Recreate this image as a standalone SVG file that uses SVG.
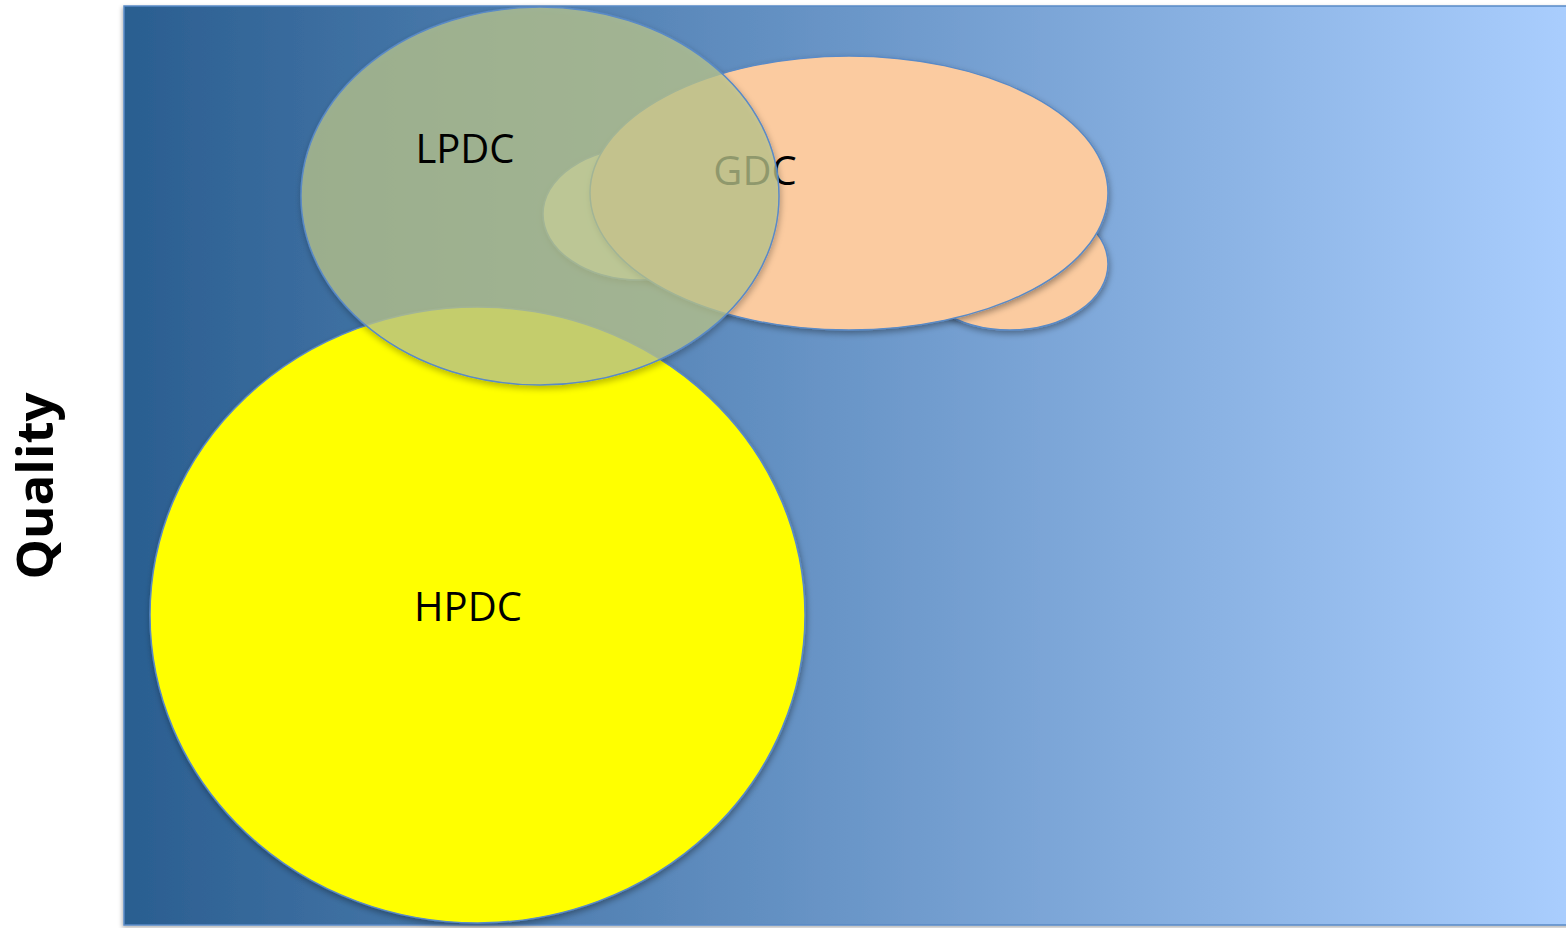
<svg xmlns="http://www.w3.org/2000/svg" width="1566" height="928" viewBox="0 0 1566 928">
  <defs>
    <linearGradient id="bg" x1="0" y1="0" x2="1" y2="0">
      <stop offset="0" stop-color="#2a5e90"/>
      <stop offset="0.5" stop-color="#6a96c8"/>
      <stop offset="1" stop-color="#aacefe"/>
    </linearGradient>
    <filter id="sh" x="-10%" y="-10%" width="120%" height="125%">
      <feDropShadow dx="1" dy="3" stdDeviation="3" flood-color="#000" flood-opacity="0.35"/>
    </filter>
    <filter id="bgsh" x="-2%" y="-2%" width="104%" height="104%">
      <feDropShadow dx="-1" dy="2" stdDeviation="2" flood-color="#000" flood-opacity="0.3"/>
    </filter>
  </defs>
  <style>
    .edge { stroke: #5a8ac6; stroke-width: 1.5; }
    .lbl { font-family: "Open Sans", "Noto Sans", sans-serif; font-size: 40px; fill: #000; text-anchor: middle; }
  </style>
  <rect width="1566" height="928" fill="#ffffff"/>
  <rect id="background" x="124" y="6" width="1450" height="919" fill="url(#bg)" class="edge" filter="url(#bgsh)"/>
  <g id="hpdc">
    <ellipse cx="477.5" cy="615" rx="327.5" ry="308" fill="#ffff00" class="edge" filter="url(#sh)"/>
  </g>
  <g id="gdc">
    <ellipse cx="640" cy="214" rx="97" ry="66" fill="#d6e0c6" class="edge" filter="url(#sh)"/>
    <ellipse cx="1010" cy="264" rx="98" ry="66" fill="#fbcba0" class="edge" filter="url(#sh)"/>
    <ellipse cx="849" cy="193" rx="259" ry="137" fill="#fbcba0" class="edge" filter="url(#sh)"/>
    <text class="lbl" x="755" y="185">GDC</text>
  </g>
  <g id="lpdc">
    <ellipse cx="540" cy="196" rx="239" ry="189" fill="#bcc88f" fill-opacity="0.72" class="edge" filter="url(#sh)"/>
    <text class="lbl" x="465" y="163">LPDC</text>
  </g>
  <g id="hpdc-label">
    <text class="lbl" x="468" y="621">HPDC</text>
  </g>
  <g id="axis-label">
    <text transform="translate(53,486) rotate(-90)" font-family="'Open Sans', 'Noto Sans', sans-serif" font-weight="bold" font-size="51" text-anchor="middle" fill="#000">Quality</text>
  </g>
  <g id="connectors"/>
</svg>
